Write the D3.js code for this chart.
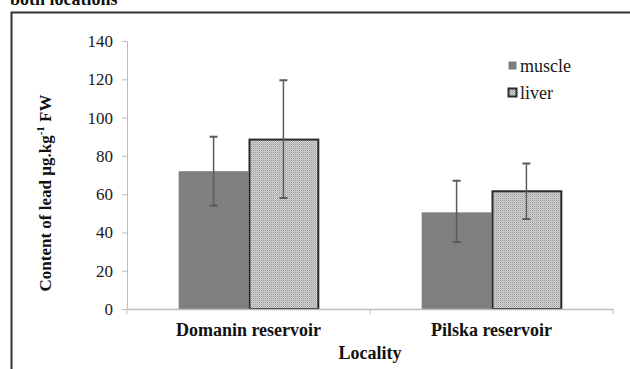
<!DOCTYPE html>
<html>
<head>
<meta charset="utf-8">
<script src="https://cdn.jsdelivr.net/npm/d3@7"></script>
<style>
  html, body { margin: 0; padding: 0; background: #fff; }
  svg { display: block; }
</style>
</head>
<body>
<svg id="chart" width="630" height="369"></svg>
<script>
// Lead content in fish tissues at two reservoirs
const localities = ["Domanin reservoir", "Pilska reservoir"];
const tissues = ["muscle", "liver"];
const muscleMean = [72, 50.5];
const muscleLow = [54, 35];
const muscleHigh = [90, 67];
const liverMean = [88.5, 61.5];
const liverLow = [58, 47];
const liverHigh = [119.5, 76];
const yTicks = [0, 20, 40, 60, 80, 100, 120, 140];

const SERIF = "'Liberation Serif', 'Times New Roman', serif";

const rows = localities.map((loc, i) => ({
  loc,
  values: [
    { tissue: "muscle", mean: muscleMean[i], lo: muscleLow[i], hi: muscleHigh[i] },
    { tissue: "liver", mean: liverMean[i], lo: liverLow[i], hi: liverHigh[i] }
  ]
}));

const svg = d3.select("#chart");

const defs = svg.append("defs");
const pat = defs.append("pattern")
  .attr("id", "dots").attr("patternUnits", "userSpaceOnUse")
  .attr("width", 2).attr("height", 2);
pat.append("rect").attr("width", 2).attr("height", 2).attr("fill", "#d6d6d6");
pat.append("rect").attr("width", 1).attr("height", 1).attr("fill", "#9a9a9a");
pat.append("rect").attr("x", 1).attr("y", 1).attr("width", 1).attr("height", 1).attr("fill", "#b4b4b4");

// caption fragment above the frame
svg.append("text").attr("x", 10).attr("y", 5)
  .style("font-family", SERIF)
  .attr("font-size", 18).attr("font-weight", "bold").attr("fill", "#111")
  .text("both locations");

// frame
svg.append("path").attr("d", "M11.5,369 V12.5 H630")
  .attr("fill", "none").attr("stroke", "#333").attr("stroke-width", 2);

const x0 = 127, x1 = 613, y0 = 309, y1 = 41;
const x = d3.scaleBand().domain(localities).range([x0, x1]).paddingInner(0).paddingOuter(0);
const xi = d3.scaleBand().domain(tissues).range([0, x.bandwidth()]).paddingOuter(0.74).paddingInner(0);
const y = d3.scaleLinear().domain([0, 140]).range([y0, y1]);

// y axis
const yAxis = svg.append("g").attr("transform", `translate(${x0},0)`)
  .call(d3.axisLeft(y).tickValues(yTicks).tickSize(5).tickPadding(9));
yAxis.select(".domain").attr("stroke", "#bdbdbd");
yAxis.selectAll(".tick line").attr("stroke", "#bdbdbd");
yAxis.selectAll(".tick text").style("font-family", SERIF)
  .style("font-size", "17px").attr("fill", "#1a1a1a");

// bars
const g = svg.append("g").selectAll("g").data(rows).join("g")
  .attr("transform", d => `translate(${x(d.loc)},0)`);

g.selectAll("rect").data(d => d.values).join("rect")
  .attr("x", d => xi(d.tissue) + (d.tissue === "liver" ? 1 : 0))
  .attr("width", d => xi.bandwidth() - (d.tissue === "liver" ? 1 : 0))
  .attr("y", d => y(d.mean))
  .attr("height", d => y(0) - y(d.mean))
  .attr("fill", d => d.tissue === "muscle" ? "#7f7f7f" : "url(#dots)")
  .attr("stroke", d => d.tissue === "muscle" ? "none" : "#2a2a2a")
  .attr("stroke-width", 2);

// x axis
const xAxis = svg.append("g").attr("transform", `translate(0,${y0})`)
  .call(d3.axisBottom(x).tickSize(0).tickPadding(14));
xAxis.select(".domain").attr("stroke", "#bdbdbd").attr("stroke-width", 1.5);
xAxis.selectAll(".tick text").style("font-family", SERIF)
  .style("font-size", "18px").attr("font-weight", "bold").attr("fill", "#111");
svg.append("g").selectAll("line").data([x0, x0 + x.bandwidth(), x1]).join("line")
  .attr("x1", d => d).attr("x2", d => d).attr("y1", y0).attr("y2", y0 + 5)
  .attr("stroke", "#bdbdbd");

// error bars
const eb = g.selectAll("g.err").data(d => d.values).join("g").attr("class", "err")
  .attr("transform", d => `translate(${xi(d.tissue) + xi.bandwidth() / 2},0)`);
eb.append("line").attr("y1", d => y(d.lo)).attr("y2", d => y(d.hi))
  .attr("stroke", "#5a5a5a").attr("stroke-width", 1.5);
eb.selectAll("line.cap").data(d => [d.lo, d.hi]).join("line").attr("class", "cap")
  .attr("x1", -4).attr("x2", 4).attr("y1", v => y(v)).attr("y2", v => y(v))
  .attr("stroke", "#5a5a5a").attr("stroke-width", 2);

// legend
const legend = svg.append("g").attr("transform", "translate(508,0)");
const legY = [66, 93];
tissues.forEach((t, i) => {
  legend.append("rect").attr("x", 0.5).attr("y", legY[i] - 4.5)
    .attr("width", 8).attr("height", 8)
    .attr("fill", t === "muscle" ? "#7f7f7f" : "url(#dots)")
    .attr("stroke", t === "muscle" ? "none" : "#2a2a2a").attr("stroke-width", 2);
  legend.append("text").attr("x", 12).attr("y", legY[i] + 6)
    .style("font-family", SERIF)
    .attr("font-size", 18).attr("fill", "#1a1a1a").text(t);
});

// axis titles
svg.append("text").attr("x", (x0 + x1) / 2).attr("y", 359)
  .style("font-family", SERIF)
  .attr("text-anchor", "middle").attr("font-size", 18).attr("font-weight", "bold")
  .attr("fill", "#111").text("Locality");

const yt = svg.append("text")
  .attr("transform", "translate(51,193) rotate(-90)")
  .style("font-family", SERIF)
  .attr("text-anchor", "middle").attr("font-size", 17).attr("font-weight", "bold")
  .attr("fill", "#111");
yt.append("tspan").text("Content of lead µg.kg");
yt.append("tspan").attr("dy", -7).attr("font-size", 11).text("-1");
yt.append("tspan").attr("dy", 7).text(" FW");
</script>
</body>
</html>
